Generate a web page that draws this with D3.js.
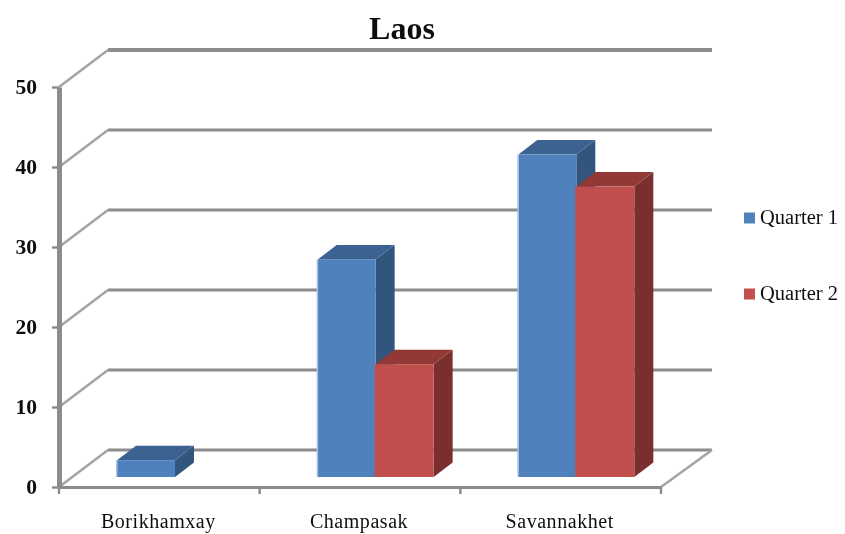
<!DOCTYPE html>
<html><head><meta charset="utf-8">
<script src="https://cdn.jsdelivr.net/npm/d3@7"></script>
<style>html,body{margin:0;padding:0;background:#fff}svg{display:block}text{font-family:"Liberation Serif",serif;fill:#111}</style>
</head><body><svg id="c" width="845" height="534"></svg>
<script>
const chartTitle = "Laos";
const categories = ["Borikhamxay", "Champasak", "Savannakhet"];
const seriesNames = ["Quarter 1", "Quarter 2"];
const quarter1 = [2.1, 27.2, 40.3];
const quarter2 = [0, 14.1, 36.3];
const yTicks = [0, 10, 20, 30, 40, 50];
const seriesColors = [
  {front:"#4f81bd", side:"#30547e", top:"#3a6291", edge:"#a9c2e0"},
  {front:"#c0504d", side:"#7a2f2d", top:"#923936", edge:"#c0504d"}
];

const svg = d3.select("#c");
const defs = svg.append("defs");
defs.append("filter").attr("id","soft").attr("x","-5%").attr("y","-5%").attr("width","110%").attr("height","110%")
  .append("feGaussianBlur").attr("stdDeviation",0.55);
const root = svg.append("g").attr("filter","url(#soft)");

const x = d3.scaleBand().domain(categories).range([59,661]);
const y = d3.scaleLinear().domain([0,50]).range([487,87]);
const wallDx = 49, wallDy = -37;
const barFloorDy = -10;
const barDx = 19, barDy = -14.5;
const bw = x.bandwidth();
const barW = bw * 0.289;
const gridCol = "#8c8c8c";

yTicks.forEach(t=>{
  root.append("line").attr("x1",x.range()[0]+wallDx).attr("x2",x.range()[1]+wallDx+2)
    .attr("y1",y(t)+wallDy).attr("y2",y(t)+wallDy)
    .attr("stroke",gridCol).attr("stroke-width",t===50?4:3);
  root.append("line").attr("x1",x.range()[0]).attr("x2",x.range()[0]+wallDx)
    .attr("y1",y(t)).attr("y2",y(t)+wallDy)
    .attr("stroke","#a4a4a4").attr("stroke-width",2.6);
});
root.append("line").attr("x1",x.range()[1]).attr("x2",x.range()[1]+wallDx+2)
  .attr("y1",y(0)).attr("y2",y(0)+wallDy)
  .attr("stroke","#a4a4a4").attr("stroke-width",2.6);

function bar(cat, val, s){
  if(!val) return;
  const c = seriesColors[s];
  const x0 = x(cat) + barW + s*barW;
  const x1 = x0 + barW;
  const b = y(0) + barFloorDy;
  const t = b - (y(0)-y(val));
  const g = root.append("g");
  g.append("polygon").attr("fill",c.side).attr("points",[[x1,t],[x1+barDx,t+barDy],[x1+barDx,b+barDy],[x1,b]].join(" "));
  g.append("polygon").attr("fill",c.top).attr("points",[[x0,t],[x0+barDx,t+barDy],[x1+barDx,t+barDy],[x1,t]].join(" "));
  g.append("rect").attr("x",x0).attr("y",t).attr("width",barW).attr("height",b-t).attr("fill",c.front);
  g.append("rect").attr("x",x0-1).attr("y",t).attr("width",1.5).attr("height",b-t).attr("fill",c.edge);
}
categories.forEach((cat,i)=>{
  bar(cat, quarter1[i], 0);
  bar(cat, quarter2[i], 1);
});

const xa = root.append("g").attr("transform",`translate(0,${y(0)})`)
  .call(d3.axisBottom(x).tickSize(0).tickPadding(27));
xa.select(".domain").attr("stroke",gridCol).attr("stroke-width",3);
xa.selectAll("text").attr("font-size",20).attr("letter-spacing",0.55).attr("font-family","Liberation Serif").attr("fill","#111").attr("dx",-1);
x.domain().concat(["end"]).forEach((c,i)=>{
  const px = x.range()[0] + i*bw;
  root.append("line").attr("x1",px).attr("x2",px).attr("y1",y(0)).attr("y2",y(0)+7)
    .attr("stroke",gridCol).attr("stroke-width",2.4);
});

const ya = root.append("g").attr("transform",`translate(${x.range()[0]},0)`)
  .call(d3.axisLeft(y).tickValues(yTicks).tickSizeInner(7).tickSizeOuter(0).tickPadding(15));
ya.select(".domain").attr("stroke",gridCol).attr("stroke-width",5);
ya.selectAll(".tick line").attr("stroke",gridCol).attr("stroke-width",2.4);
ya.selectAll("text").attr("font-size",21.5).attr("font-weight","bold").attr("font-family","Liberation Serif").attr("fill","#111");

root.append("text").attr("x",402).attr("y",39).attr("text-anchor","middle")
  .attr("font-size",32).attr("font-weight","bold").text(chartTitle);

const legY = d3.scalePoint().domain(seriesNames).range([218,294]);
seriesNames.forEach((n,i)=>{
  root.append("rect").attr("x",744).attr("y",legY(n)-5.5).attr("width",11).attr("height",11)
    .attr("fill",seriesColors[i].front);
  root.append("text").attr("x",760).attr("y",legY(n)+6).attr("font-size",20.5).text(n);
});
</script></body></html>
